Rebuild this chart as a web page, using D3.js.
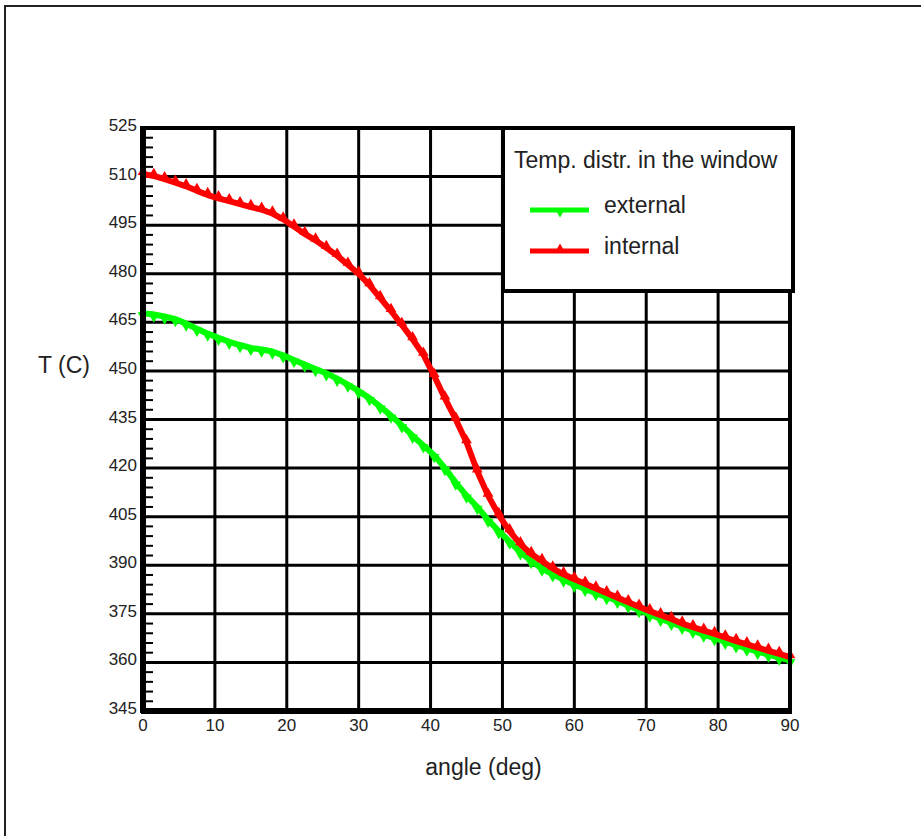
<!DOCTYPE html>
<html>
<head>
<meta charset="utf-8">
<script src="https://cdn.jsdelivr.net/npm/d3@7"></script>
<style>
  body { margin: 0; background: #fff; }
  text { font-family: "Liberation Sans", Arial, sans-serif; fill: #222; }
</style>
</head>
<body>
<svg id="chart" width="921" height="836"></svg>
<script>
// angle (deg) sampled every 1.5
const angles = [0, 1.5, 3, 4.5, 6, 7.5, 9, 10.5, 12, 13.5, 15, 16.5, 18, 19.5, 21, 22.5, 24, 25.5, 27, 28.5,
  30, 31.5, 33, 34.5, 36, 37.5, 39, 40.5, 42, 43.5, 45, 46.5, 48, 49.5, 51, 52.5, 54, 55.5, 57, 58.5,
  60, 61.5, 63, 64.5, 66, 67.5, 69, 70.5, 72, 73.5, 75, 76.5, 78, 79.5, 81, 82.5, 84, 85.5, 87, 88.5, 90];

const externalT = [467.8, 467.4, 466.8, 466.0, 464.6, 463.0, 461.5, 460.2, 459.0, 458.0, 457.1, 456.6, 456.0, 454.8,
  453.4, 452.0, 450.6, 449.3, 447.6, 445.8, 443.8, 441.6, 439.0, 436.2, 433.2, 430.0, 427.0, 424.0, 420.0, 415.5,
  411.5, 408.0, 404.0, 400.5, 397.3, 394.0, 391.3, 389.0, 387.2, 385.6, 384.0, 382.7, 381.4, 380.2, 379.0, 377.6,
  376.2, 374.8, 373.5, 372.2, 371.0, 369.8, 368.6, 367.5, 366.4, 365.3, 364.3, 363.3, 362.4, 361.5, 360.6];

const internalT = [510.8, 510.2, 509.2, 508.1, 507.0, 505.6, 504.3, 503.3, 502.4, 501.5, 500.6, 499.8, 498.6, 496.8,
  494.6, 492.3, 490.3, 488.0, 485.6, 482.8, 480.0, 476.5, 472.5, 468.5, 464.2, 459.8, 455.0, 448.5, 441.5, 435.0,
  428.0, 419.0, 411.5, 405.5, 400.5, 396.5, 393.5, 391.3, 389.0, 387.2, 385.7, 384.3, 382.8, 381.4, 380.0, 378.6,
  377.2, 375.8, 374.6, 373.4, 372.0, 370.9, 369.8, 368.8, 367.7, 366.6, 365.6, 364.6, 363.6, 362.6, 361.6];

const xTicks = [0, 10, 20, 30, 40, 50, 60, 70, 80, 90];
const yTicks = [345, 360, 375, 390, 405, 420, 435, 450, 465, 480, 495, 510, 525];
const yMinor = d3.range(345, 526, 3);

const seriesNames = ['external', 'internal'];
const seriesColors = ['#00ff00', '#ff0000'];

const svg = d3.select('#chart');

// outer frame (only top and left edges visible)
svg.append('path')
  .attr('d', 'M5,836 V6 H921')
  .attr('fill', 'none')
  .attr('stroke', '#222')
  .attr('stroke-width', 2);

const pLeft = 143, pRight = 790, pTop = 128, pBottom = 711;

const x = d3.scaleLinear().domain([0, 90]).range([pLeft, pRight]);
const y = d3.scaleLinear().domain([345, 525]).range([pBottom, pTop]);

// grid
const grid = svg.append('g');
grid.selectAll('.vg')
  .data(xTicks.slice(1, -1))
  .enter().append('line')
  .attr('x1', d => x(d)).attr('x2', d => x(d))
  .attr('y1', pTop).attr('y2', pBottom)
  .attr('stroke', '#000').attr('stroke-width', 3);
grid.selectAll('.hg')
  .data(yTicks.slice(1, -1))
  .enter().append('line')
  .attr('x1', pLeft).attr('x2', pRight)
  .attr('y1', d => y(d)).attr('y2', d => y(d))
  .attr('stroke', '#000').attr('stroke-width', 3);

// minor ticks on the y axis
grid.selectAll('.mt')
  .data(yMinor.filter(v => (v - 345) % 15 !== 0))
  .enter().append('line')
  .attr('x1', pLeft).attr('x2', pLeft + 10)
  .attr('y1', d => y(d)).attr('y2', d => y(d))
  .attr('stroke', '#000').attr('stroke-width', 2);

// curves
const series = [externalT, internalT];
const line = d3.line().x((d, i) => x(angles[i])).y(d => y(d));

series.forEach((vals, s) => {
  const g = svg.append('g');
  g.append('path')
    .datum(vals)
    .attr('d', line)
    .attr('fill', 'none')
    .attr('stroke', seriesColors[s])
    .attr('stroke-width', 6)
    .attr('stroke-linejoin', 'round');
  const sym = d3.symbol().type(d3.symbolTriangle).size(50);
  g.selectAll('path.m')
    .data(vals)
    .enter().append('path')
    .attr('class', 'm')
    .attr('d', sym)
    .attr('transform', (d, i) => `translate(${x(angles[i])},${y(d) + (s === 0 ? 2 : -2)}) rotate(${s === 0 ? 180 : 0})`)
    .attr('fill', seriesColors[s]);
});

// plot frame
svg.append('rect')
  .attr('x', pLeft).attr('y', pTop)
  .attr('width', pRight - pLeft).attr('height', pBottom - pTop)
  .attr('fill', 'none')
  .attr('stroke', '#000').attr('stroke-width', 4);
svg.append('line')
  .attr('x1', pLeft).attr('x2', pLeft).attr('y1', pTop - 2).attr('y2', pBottom + 2)
  .attr('stroke', '#000').attr('stroke-width', 6);
svg.append('line')
  .attr('x1', pLeft - 2).attr('x2', pRight + 2).attr('y1', pBottom).attr('y2', pBottom)
  .attr('stroke', '#000').attr('stroke-width', 6);

// tick labels
svg.append('g').selectAll('text')
  .data(yTicks)
  .enter().append('text')
  .attr('x', pLeft - 6)
  .attr('y', d => y(d) + 3)
  .attr('text-anchor', 'end')
  .attr('font-size', 17)
  .text(d => d);

svg.append('g').selectAll('text')
  .data(xTicks)
  .enter().append('text')
  .attr('x', d => x(d))
  .attr('y', 731)
  .attr('text-anchor', 'middle')
  .attr('font-size', 17)
  .text(d => d);

// axis titles
svg.append('text')
  .attr('x', 38).attr('y', 373)
  .attr('font-size', 23)
  .text('T (C)');
svg.append('text')
  .attr('x', (pLeft + pRight) / 2 + 17).attr('y', 775)
  .attr('text-anchor', 'middle')
  .attr('font-size', 23)
  .text('angle (deg)');

// legend
const lg = svg.append('g');
lg.append('rect')
  .attr('x', 503).attr('y', 128)
  .attr('width', 290).attr('height', 163)
  .attr('fill', '#fff')
  .attr('stroke', '#000').attr('stroke-width', 4);
lg.append('text')
  .attr('x', 514).attr('y', 168)
  .attr('font-size', 23)
  .text('Temp. distr. in the window');

seriesNames.forEach((name, i) => {
  const ly = 210 + i * 41;
  lg.append('line')
    .attr('x1', 530).attr('x2', 589)
    .attr('y1', ly).attr('y2', ly)
    .attr('stroke', seriesColors[i]).attr('stroke-width', 5);
  lg.append('path')
    .attr('d', d3.symbol().type(d3.symbolTriangle).size(40))
    .attr('transform', `translate(560,${ly + (i === 0 ? 2 : -2)}) rotate(${i === 0 ? 180 : 0})`)
    .attr('fill', seriesColors[i]);
  lg.append('text')
    .attr('x', 604).attr('y', ly + 3)
    .attr('font-size', 23)
    .text(name);
});
</script>
</body>
</html>
